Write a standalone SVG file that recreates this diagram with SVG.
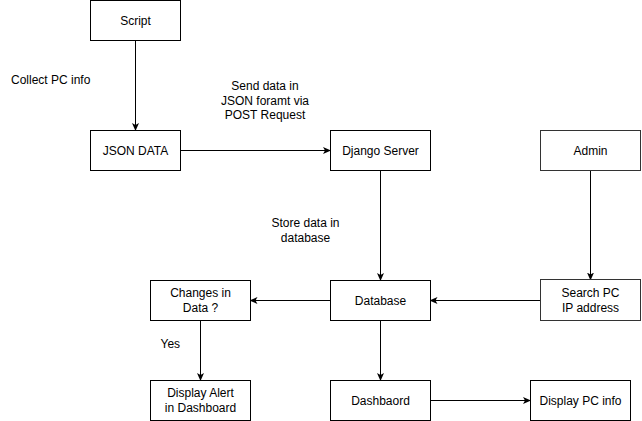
<svg xmlns="http://www.w3.org/2000/svg" width="642" height="421" viewBox="0 0 642 421">
<style>
.box{fill:#fff;stroke:#000;stroke-width:1}
.sk{fill:#fff;stroke:#333;stroke-width:1}
.t{font-family:"Liberation Sans",Arial,sans-serif;font-size:12px;fill:#000;text-anchor:middle;dominant-baseline:central}
.lbl{font-family:"Liberation Sans",Arial,sans-serif;font-size:12px;fill:#000}
.c{fill:none;stroke:#000;stroke-width:1;marker-end:url(#ar)}
</style>
<defs>
<marker id="ar" viewBox="0 0 8 8" refX="7" refY="4" markerWidth="8" markerHeight="8" markerUnits="userSpaceOnUse" orient="auto">
<path d="M0,0.5 L8,4 L0,7.5 L2,4 z" fill="#000"/>
</marker>
</defs>
<rect width="642" height="421" fill="#fff"/>
<g id="connectors">
<path class="c" d="M135.5,40.5 V130"/>
<path class="c" d="M180.5,150.5 H330"/>
<path class="c" d="M380.5,170.5 V280"/>
<path class="c" d="M590.5,170.5 V279.5"/>
<path class="c" d="M540,300.5 H430.5"/>
<path class="c" d="M330,300.5 H250.5"/>
<path class="c" d="M200.5,320.5 V380"/>
<path class="c" d="M380.5,320.5 V380"/>
<path class="c" d="M430.5,400.5 H530"/>
</g>
<g id="node-script"><rect class="box" x="90.5" y="0.5" width="90" height="40"/><text class="t" x="135.5" y="20.5">Script</text></g>
<g id="node-json"><rect class="box" x="90.5" y="130.5" width="90" height="40"/><text class="t" x="135.5" y="150.5">JSON DATA</text></g>
<g id="node-django"><rect class="box" x="330.5" y="130.5" width="100" height="40"/><text class="t" x="380.5" y="150.5">Django Server</text></g>
<g id="node-admin"><rect class="sk" x="540.5" y="130.5" width="100" height="40"/><text class="t" x="590.5" y="150.5">Admin</text></g>
<g id="node-database"><rect class="box" x="330.5" y="280.5" width="100" height="40"/><text class="t" x="380.5" y="300.5">Database</text></g>
<g id="node-search"><rect class="sk" x="540.5" y="279.5" width="100" height="41"/><text class="t" x="590.5" y="293">Search PC</text><text class="t" x="590.5" y="308">IP address</text></g>
<g id="node-changes"><rect class="box" x="150.5" y="280.5" width="100" height="40"/><text class="t" x="200.5" y="293">Changes in</text><text class="t" x="200.5" y="308">Data ?</text></g>
<g id="node-alert"><rect class="box" x="150.5" y="380.5" width="100" height="40"/><text class="t" x="200.5" y="393">Display Alert</text><text class="t" x="200.5" y="408">in Dashboard</text></g>
<g id="node-dashboard"><rect class="box" x="330.5" y="380.5" width="100" height="40"/><text class="t" x="380.5" y="400.5">Dashbaord</text></g>
<g id="node-pcinfo"><rect class="box" x="530.5" y="380.5" width="100" height="40"/><text class="t" x="580.5" y="400.5">Display PC info</text></g>
<g id="labels">
<text class="lbl" x="11" y="84">Collect PC info</text>
<text class="t" x="265" y="86">Send data in</text>
<text class="t" x="265" y="100.5">JSON foramt via</text>
<text class="t" x="265" y="115">POST Request</text>
<text class="t" x="305.5" y="223">Store data in</text>
<text class="t" x="305.5" y="237.5">database</text>
<text class="lbl" x="160.5" y="348">Yes</text>
</g>
</svg>
